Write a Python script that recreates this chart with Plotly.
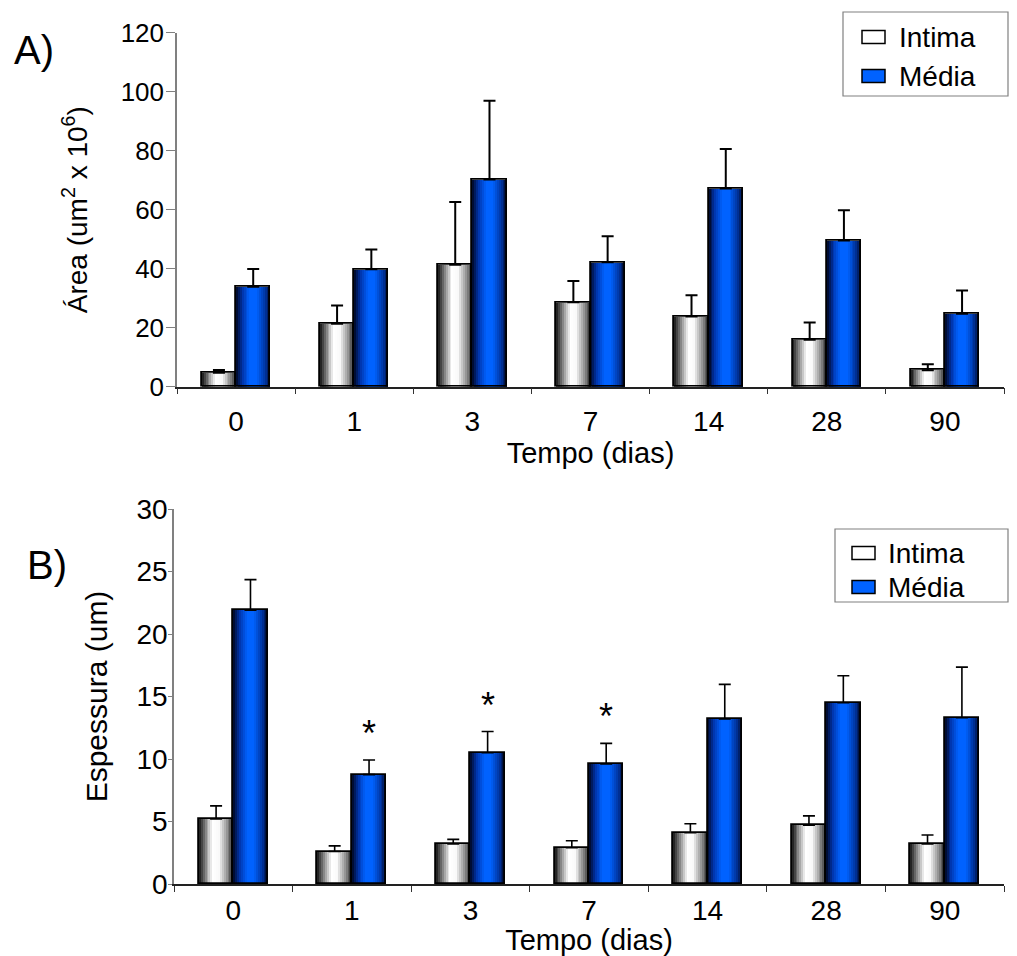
import plotly.graph_objects as go

# ---- data -------------------------------------------------------------
days = ["0", "1", "3", "7", "14", "28", "90"]

area_intima = [4.7, 21.3, 41.3, 28.6, 23.8, 15.9, 5.6]
area_intima_err = [1.0, 6.2, 21.3, 7.2, 7.2, 5.9, 2.0]
area_media = [33.9, 39.8, 70.2, 42.2, 67.2, 49.6, 24.7]
area_media_err = [6.0, 6.7, 26.7, 8.8, 13.4, 10.2, 7.9]

thick_intima = [5.2, 2.6, 3.2, 2.9, 4.1, 4.7, 3.2]
thick_intima_err = [1.05, 0.45, 0.37, 0.56, 0.72, 0.75, 0.72]
thick_media = [21.9, 8.75, 10.5, 9.6, 13.2, 14.5, 13.3]
thick_media_err = [2.45, 1.17, 1.7, 1.65, 2.77, 2.16, 4.05]

series_names = ["Intima", "Média"]
significant_days = ["1", "3", "7"]

# ---- style ------------------------------------------------------------
W, H = 1017, 956
FONT = "Liberation Sans, Arial, sans-serif"
BW = 0.29          # width of one bar, in category units
K = 18             # vertical strips used to shade each bar
MEDIA_BLUE = "#0062FF"
SWATCH_FILL = ["white", MEDIA_BLUE]

INTIMA_STOPS = [(0.0, (20, 20, 20)), (0.16, (115, 115, 115)), (0.40, (255, 255, 255)),
                (0.58, (250, 250, 250)), (0.84, (135, 135, 135)), (1.0, (45, 45, 45))]
MEDIA_STOPS = [(0.0, (0, 6, 30)), (0.18, (0, 52, 170)), (0.40, (0, 98, 255)),
               (0.60, (0, 98, 255)), (0.85, (0, 50, 155)), (1.0, (0, 12, 50))]


def shade(stops, t):
    for (t0, c0), (t1, c1) in zip(stops[:-1], stops[1:]):
        if t0 <= t <= t1:
            f = (t - t0) / (t1 - t0)
            r, g, b = (round(a + (b_ - a) * f) for a, b_ in zip(c0, c1))
            return f"rgb({r},{g},{b})"
    r, g, b = stops[-1][1]
    return f"rgb({r},{g},{b})"


def px(x, y):
    """pixel position -> paper coordinates"""
    return x / W, 1 - y / H


fig = go.Figure()


def add_series(xa, ya, values, errors, left, stops, err_width):
    base = -BW if left else 0.0
    step = BW / K
    # shaded body: each strip runs to the right edge, later strips overlay earlier ones
    for k in range(K):
        fig.add_trace(go.Bar(
            x=days, y=values, xaxis=xa, yaxis=ya,
            offset=base + k * step, width=BW - k * step,
            marker=dict(color=shade(stops, (k + 0.5) / K), line=dict(width=0)),
            showlegend=False, hoverinfo="skip"))
    # outline + error bars
    fig.add_trace(go.Bar(
        x=days, y=values, xaxis=xa, yaxis=ya, offset=base, width=BW,
        marker=dict(color="rgba(0,0,0,0)", line=dict(color="black", width=1.8)),
        error_y=dict(type="data", array=errors, arrayminus=[0] * len(errors),
                     symmetric=False, color="black", thickness=err_width, width=6),
        showlegend=False))


add_series("x", "y", area_intima, area_intima_err, True, INTIMA_STOPS, 2)
add_series("x", "y", area_media, area_media_err, False, MEDIA_STOPS, 2)
add_series("x2", "y2", thick_intima, thick_intima_err, True, INTIMA_STOPS, 1.6)
add_series("x2", "y2", thick_media, thick_media_err, False, MEDIA_STOPS, 1.6)

# significance markers above the Média bars
for d in significant_days:
    i = days.index(d)
    fig.add_annotation(x=i + BW / 2, y=thick_media[i] + thick_media_err[i] + 2.6,
                       xref="x2", yref="y2", text="*", showarrow=False,
                       font=dict(family=FONT, size=36, color="black"), yshift=-6)

# panel letters
for label, (lx, ly) in (("A)", (12, 50)), ("B)", (25, 565))):
    x0, y0 = px(lx, ly)
    fig.add_annotation(x=x0, y=y0, xref="paper", yref="paper",
                       xanchor="left", yanchor="middle", text=label, showarrow=False,
                       font=dict(family=FONT, size=40, color="black"))


# boxed legends (box, swatch column, text column, row centres)
def add_legend(box, swatch_x, text_x, rows):
    bx0, by0, bx1, by1 = box
    a0, b0 = px(bx0, by0)
    a1, b1 = px(bx1, by1)
    fig.add_shape(type="rect", xref="paper", yref="paper", x0=a0, y0=b0, x1=a1, y1=b1,
                  line=dict(color="#808080", width=1.2), fillcolor="white", layer="above")
    for name, fill, cy in zip(series_names, SWATCH_FILL, rows):
        s0, t0 = px(swatch_x, cy - 6.5)
        s1, t1 = px(swatch_x + 23, cy + 6.5)
        fig.add_shape(type="rect", xref="paper", yref="paper", x0=s0, y0=t0, x1=s1, y1=t1,
                      line=dict(color="black", width=1.5), fillcolor=fill, layer="above")
        tx, ty = px(text_x, cy)
        fig.add_annotation(x=tx, y=ty, xref="paper", yref="paper", xanchor="left",
                           yanchor="middle", text=name, showarrow=False,
                           font=dict(family=FONT, size=28, color="black"))


add_legend((843, 12, 1008, 96), 862, 897, (37, 76))
add_legend((835, 529, 1008, 602), 852, 886, (553, 587))

xaxis_common = dict(
    type="category", categoryorder="array", categoryarray=days,
    range=[-0.5, len(days) - 0.5], tickson="boundaries",
    ticks="outside", ticklen=6, tickwidth=1, tickcolor="#333333",
    showline=True, linecolor="#222222", linewidth=1.5,
    showgrid=False, zeroline=False, automargin=False,
    tickfont=dict(family=FONT, size=28, color="black"),
)
yaxis_common = dict(
    ticks="outside", tickwidth=1, tickcolor="#808080",
    showline=True, linecolor="#808080", linewidth=1.5,
    showgrid=False, zeroline=False, automargin=False,
)

fig.update_layout(
    width=W, height=H, autosize=False,
    margin=dict(l=0, r=0, t=0, b=0, autoexpand=False),
    paper_bgcolor="white", plot_bgcolor="white",
    barmode="overlay", bargap=0, showlegend=False,
    font=dict(family=FONT, color="black"),
    xaxis=dict(**xaxis_common, domain=[177 / W, 1004 / W], anchor="y",
               ticklabelstandoff=9,
               title=dict(text="Tempo (dias)", standoff=7,
                          font=dict(family=FONT, size=29, color="black"))),
    yaxis=dict(**yaxis_common, domain=[1 - 386.7 / H, 1 - 32.7 / H], anchor="x",
               range=[0, 120], tickvals=[0, 20, 40, 60, 80, 100, 120], ticklen=9,
               ticklabelstandoff=-3,
               tickfont=dict(family=FONT, size=26, color="black"),
               title=dict(text="Área (um<sup>2</sup> x 10<sup>6</sup>)", standoff=25,
                          font=dict(family=FONT, size=28, color="black"))),
    xaxis2=dict(**xaxis_common, domain=[174 / W, 1004 / W], anchor="y2",
                ticklabelstandoff=1,
                title=dict(text="Tempo (dias)", standoff=0,
                           font=dict(family=FONT, size=29, color="black"))),
    yaxis2=dict(**yaxis_common, domain=[1 - 884 / H, 1 - 509 / H], anchor="x2",
                range=[0, 30], tickvals=[0, 5, 10, 15, 20, 25, 30], ticklen=4,
                ticklabelstandoff=-5,
                tickfont=dict(family=FONT, size=28, color="black"),
                title=dict(text="Espessura (um)", standoff=20,
                           font=dict(family=FONT, size=30, color="black"))),
)

fig.write_html("out.html")
